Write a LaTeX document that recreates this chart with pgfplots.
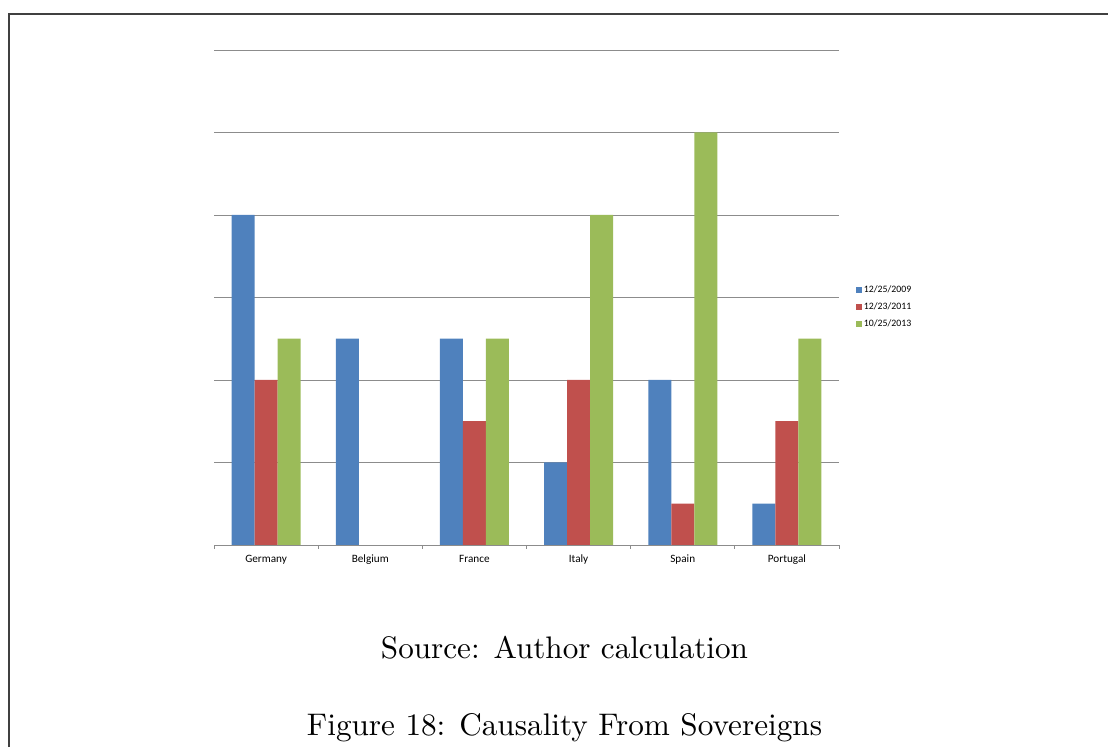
\documentclass[border=0pt]{standalone}
\usepackage{pgfplots}
\pgfplotsset{compat=1.18}
\usepackage{fontspec}
\newfontfamily\carlito{Carlito}
\definecolor{cblue}{HTML}{4F81BD}
\definecolor{cred}{HTML}{C0504D}
\definecolor{cgreen}{HTML}{9BBB59}
\begin{document}
\begin{tikzpicture}
\useasboundingbox (0,0) rectangle (1108pt,747pt);
\draw[line width=1.5pt, black!75] (9pt,0pt) -- (9pt,733pt) -- (1108pt,733pt);
\begin{axis}[
  at={(214pt,202pt)}, anchor=south west,
  scale only axis, width=625pt, height=495pt,
  xmin=-0.5, xmax=5.5, ymin=0, ymax=6,
  ybar, bar width=23pt,
  axis x line*=bottom, axis y line*=left,
  y axis line style={draw=none},
  x axis line style={draw=black!45, line width=0.8pt},
  ytick={0,1,...,6}, yticklabels={}, ytick style={draw=none},
  ymajorgrids, grid style={black!45, line width=0.8pt},
  xtick={0,...,5},
  xticklabels={Germany,Belgium,France,Italy,Spain,Portugal},
  major x tick style={draw=none},
  minor xtick={-0.5,0.5,...,5.5},
  minor x tick style={draw=black!45, line width=0.8pt},
  minor tick length=4pt, tick align=outside,
  xticklabel style={font=\carlito\fontsize{11.2}{13}\selectfont, text height=7.5pt, text depth=2.5pt, yshift=-2pt},
  legend style={at={(1.022,0.533)}, anchor=north west, draw=none,
    font=\carlito\fontsize{9.8}{11}\selectfont, row sep=5pt,
    legend cell align=left},
  legend image code/.code={\fill[#1] (0pt,-3pt) rectangle (6pt,3pt);},
]
\addplot[fill=cblue, draw=none, bar shift=-23pt] coordinates {(0,4) (1,2.5) (2,2.5) (3,1) (4,2) (5,0.5)};
\addplot[fill=cred, draw=none, bar shift=0pt] coordinates {(0,2) (2,1.5) (3,2) (4,0.5) (5,1.5)};
\addplot[fill=cgreen, draw=none, bar shift=23pt] coordinates {(0,2.5) (2,2.5) (3,4) (4,5) (5,2.5)};
\legend{12/25/2009,12/23/2011,10/25/2013}
\end{axis}
\node at (564.5pt,99pt) {\resizebox{367pt}{!}{Source: Author calculation}};
\node at (564.5pt,19pt) {\resizebox{515pt}{!}{Figure 18: Causality From Sovereigns}};
\end{tikzpicture}
\end{document}
